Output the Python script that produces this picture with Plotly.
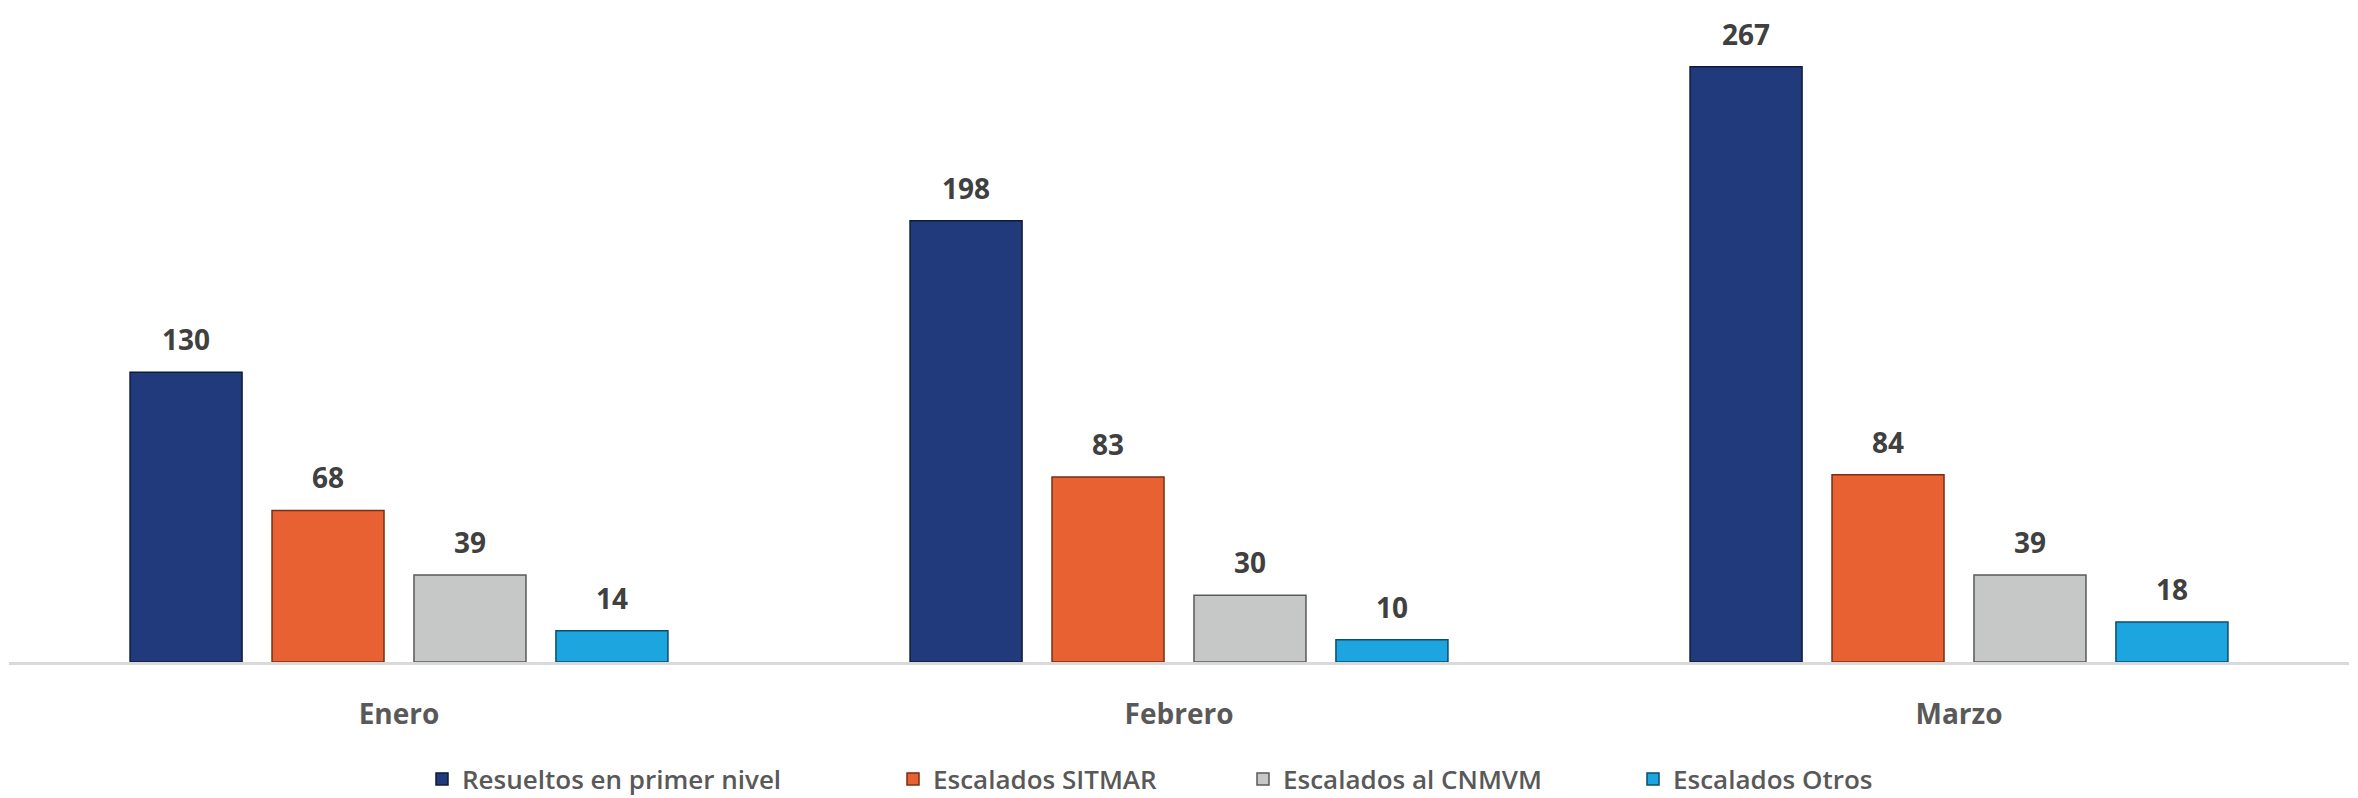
import plotly.graph_objects as go

categories = ["Enero", "Febrero", "Marzo"]
series_names = ["Resueltos en primer nivel", "Escalados SITMAR", "Escalados al CNMVM", "Escalados Otros"]
resueltos = [130, 198, 267]
sitmar = [68, 83, 84]
cnmvm = [39, 30, 39]
otros = [14, 10, 18]

values = [resueltos, sitmar, cnmvm, otros]
colors = ["#213A7C", "#E86133", "#C6C7C7", "#1DA5E0"]
edge_colors = ["#0E1A3A", "#7A2E12", "#5A5A5A", "#0A4E6E"]
legend_ids = ["legend2", "legend3", "legend4", "legend5"]
legend_x_px = [422, 893, 1243, 1633]

W, H = 2358, 798
ML, MR, MT, MB = 9, 9, 0, 136
PW, PH = W - ML - MR, H - MT - MB
BARGAP = 0.272
BARGROUPGAP = 0.211

fig = go.Figure()
for name, vals, col, ecol, lid in zip(series_names, values, colors, edge_colors, legend_ids):
    fig.add_trace(go.Bar(
        x=categories, y=vals, name=name,
        marker=dict(color=col, line=dict(color=ecol, width=1.5)),
        legend=lid, showlegend=True, hoverinfo="x+y+name",
    ))

# data labels above each bar
n = len(values)
slot = (1 - BARGAP) / n
annotations = []
for i, vals in enumerate(values):
    off = -(1 - BARGAP) / 2 + slot * (i + 0.5)
    for j, v in enumerate(vals):
        annotations.append(dict(
            x=j + off, y=v, xref="x", yref="y", text=str(v), showarrow=False,
            yanchor="middle", yshift=33,
            font=dict(family="Open Sans", size=28, color="#404040", weight="bold"),
        ))

layout_legends = {}
for lid, lx in zip(legend_ids, legend_x_px):
    layout_legends[lid] = dict(
        x=(lx - ML) / PW, xref="paper", xanchor="left",
        y=-(779 - (MT + PH)) / PH, yref="paper", yanchor="middle",
        orientation="v", bgcolor="rgba(0,0,0,0)",
        font=dict(family="Open Sans", size=26, color="#595959", weight=600),
        itemclick=False, itemdoubleclick=False,
    )

fig.update_layout(
    width=W, height=H,
    margin=dict(l=ML, r=MR, t=MT, b=MB, autoexpand=False),
    paper_bgcolor="white", plot_bgcolor="white",
    barmode="group", bargap=BARGAP, bargroupgap=BARGROUPGAP,
    annotations=annotations,
    **layout_legends,
)
fig.update_xaxes(
    range=[-0.5, len(categories) - 0.5],
    showline=True, linecolor="#D9D9D9", linewidth=2.5,
    showgrid=False, zeroline=False, ticks="",
    ticklabelstandoff=26,
    tickfont=dict(family="Open Sans", size=28, color="#595959", weight="bold"),
)
fig.update_yaxes(
    range=[0, 297], visible=False, showgrid=False, zeroline=False,
)

fig.write_html(
    "out.html",
    config={"displayModeBar": False},
    post_script="document.body.style.margin='0';document.body.style.overflow='hidden';",
)
